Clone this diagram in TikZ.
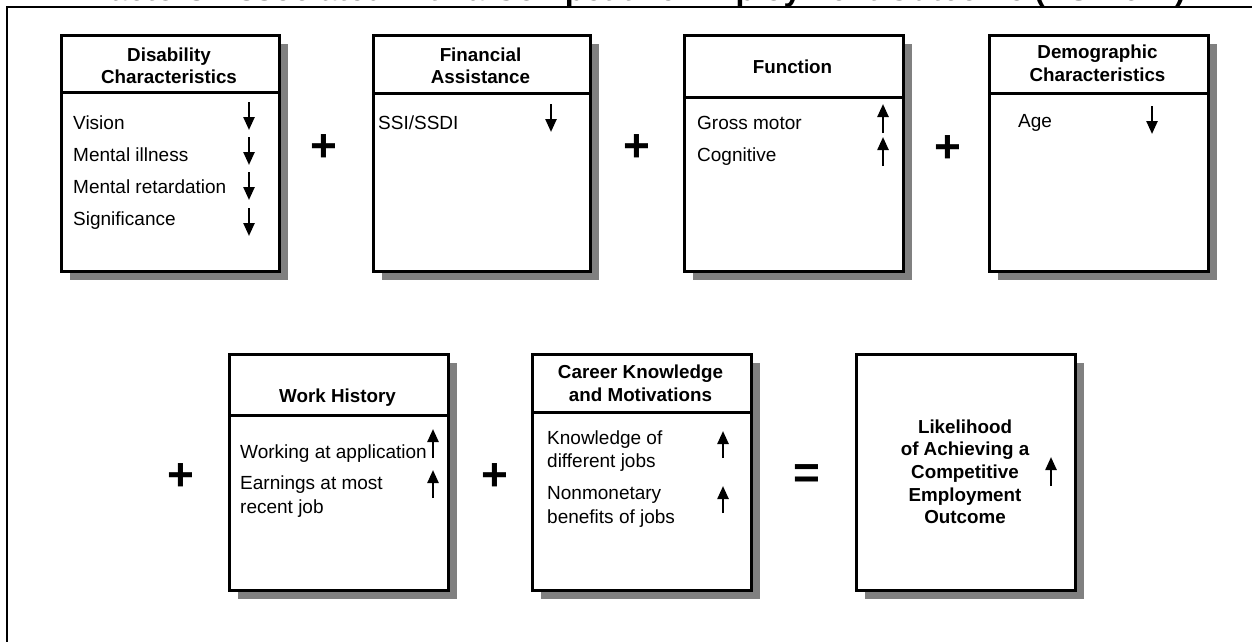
\documentclass[tikz,border=0pt]{standalone}
\usepackage{fontspec}
\setmainfont{Liberation Sans}
\usetikzlibrary{arrows.meta,shadows}
\definecolor{shadowgray}{HTML}{808080}
\tikzset{
  box/.style={draw=black, line width=3pt, fill=white, anchor=north west,
    minimum width=219pt, minimum height=236pt, inner sep=0pt,
    drop shadow={shadow xshift=8pt, shadow yshift=-8pt, fill=shadowgray, opacity=1}},
  sepline/.style={line width=3pt},
  item/.style={anchor=base west, inner sep=0pt, font=\fontsize{19}{22}\selectfont},
  head/.style={anchor=base, inner sep=0pt, font=\bfseries\fontsize{18.8}{22}\selectfont},
  opsign/.style={anchor=base, inner sep=0pt, font=\bfseries\fontsize{46}{46}\selectfont},
  trend/.style={-{Triangle[width=11pt,length=13pt]}, line width=2.4pt},
  frame/.style={line width=1.5pt}
}
\begin{document}
\begin{tikzpicture}[x=1pt,y=-1pt]
\useasboundingbox (0,0) rectangle (1252,641);
\clip (0,0) rectangle (1252,641);

% heading strip and outer frame
\node[anchor=base west, inner sep=0pt, font=\bfseries\fontsize{32}{32}\selectfont] (title) at (90,0.3)
  {Factors Associated with a Competitive Employment Outcome (RSA-911)};
\draw[frame] (7,660) -- (7,7) -- (1270,7);

% ---------- top row ----------
\node[box, minimum width=218pt] (dis) at (60,34) {};
\draw[sepline] (dis.west |- 0,92) -- (dis.east |- 0,92);
\node[head] (dish1) at (169,61) {Disability};
\node[head] (dish2) at (169,83) {Characteristics};
\node[item] (d1) at (73,129) {Vision};
\node[item] (d2) at (73,161) {Mental illness};
\node[item] (d3) at (73,193) {Mental retardation};
\node[item] (d4) at (73,225) {Significance};
\draw[trend] (249,102) -- (249,130);
\draw[trend] (249,137) -- (249,165);
\draw[trend] (249,172) -- (249,200);
\draw[trend] (249,208) -- (249,236);

\node[opsign] (plus1) at (324,161) {+};

\node[box, minimum width=217pt] (fin) at (372,34) {};
\draw[sepline] (fin.west |- 0,93) -- (fin.east |- 0,93);
\node[head] (finh1) at (480.5,61) {Financial};
\node[head] (finh2) at (480.5,83) {Assistance};
\node[item] (f1) at (378,129) {SSI/SSDI};
\draw[trend] (551,104) -- (551,132);

\node[opsign] (plus2) at (637,161) {+};

\node[box] (fun) at (683,34) {};
\draw[sepline] (fun.west |- 0,97) -- (fun.east |- 0,97);
\node[head] (funh) at (792.5,73) {Function};
\node[item] (g1) at (697,129) {Gross motor};
\node[item] (g2) at (697,161) {Cognitive};
\draw[trend] (883,133) -- (883,104);
\draw[trend] (883,166) -- (883,137);

\node[opsign] (plus3) at (948,162) {+};

\node[box] (dem) at (988,34) {};
\draw[sepline] (dem.west |- 0,93) -- (dem.east |- 0,93);
\node[head] (demh1) at (1097.5,58) {Demographic};
\node[head] (demh2) at (1097.5,81) {Characteristics};
\node[item] (a1) at (1018,127) {Age};
\draw[trend] (1152,106) -- (1152,134);

% ---------- bottom row ----------
\node[opsign] (plus4) at (181,490) {+};

\node[box] (wrk) at (228,353) {};
\draw[sepline] (wrk.west |- 0,415) -- (wrk.east |- 0,415);
\node[head] (wrkh) at (337.5,402) {Work History};
\node[item] (w1) at (240,458) {Working at application};
\node[item] (w2) at (240,489) {Earnings at most};
\node[item] (w3) at (240,513) {recent job};
\draw[trend] (433,458) -- (433,429);
\draw[trend] (433,498) -- (433,470);

\node[opsign] (plus5) at (495,490) {+};

\node[box] (car) at (531,353) {};
\draw[sepline] (car.west |- 0,412) -- (car.east |- 0,412);
\node[head] (carh1) at (640.5,378) {Career Knowledge};
\node[head] (carh2) at (640.5,401) {and Motivations};
\node[item] (k1) at (547,444) {Knowledge of};
\node[item] (k2) at (547,467) {different jobs};
\node[item] (k3) at (547,499) {Nonmonetary};
\node[item] (k4) at (547,523) {benefits of jobs};
\draw[trend] (723,458) -- (723,431);
\draw[trend] (723,513) -- (723,486);

\node[opsign] (eq) at (807,488) {=};

\node[box] (lik) at (855,353) {};
\node[head] (l1) at (965,433) {Likelihood};
\node[head] (l2) at (965,455) {of Achieving a};
\node[head] (l3) at (965,478) {Competitive};
\node[head] (l4) at (965,501) {Employment};
\node[head] (l5) at (965,523) {Outcome};
\draw[trend] (1051,486) -- (1051,457);
\end{tikzpicture}
\end{document}
